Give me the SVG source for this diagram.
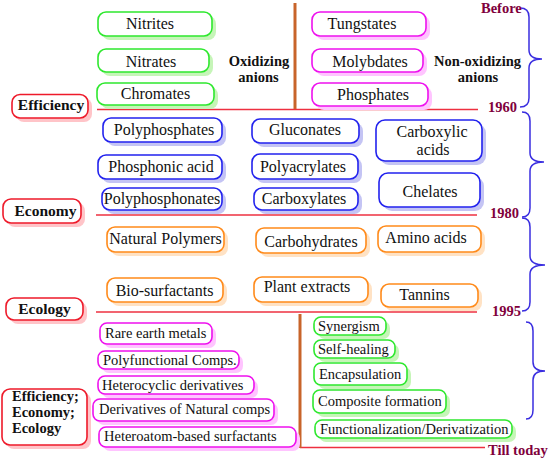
<svg xmlns="http://www.w3.org/2000/svg" width="551" height="459" viewBox="0 0 551 459">
<style>
.bx{fill:#fff;stroke-width:1.6}
.g{stroke:#2ee82e}.gs{fill:#c6f5b8}
.m{stroke:#ee11ee}.ms{fill:#ffc4ff}
.b{stroke:#2222ee}.bs{fill:#c4c4f4}
.o{stroke:#ff8a1a}.os{fill:#ffe2c4}
.r{stroke:#ee1a2a}.rs{fill:#ffc4c8}
text{font-family:"Liberation Serif","Times New Roman",serif;fill:#111}
.t16{font-size:16px;text-anchor:middle}
.t14{font-size:14.5px}
.lb{font-size:15.5px;font-weight:bold;text-anchor:middle}
.an{font-size:14.5px;font-weight:bold;text-anchor:middle}
.yr{font-size:14.5px;font-weight:bold;fill:#80003c}
.hl{stroke:#ee3040;stroke-width:1.5;fill:none}
.vl{stroke:#c8642a;stroke-width:3;fill:none}
.br{stroke:#3a2ee0;stroke-width:1.5;fill:none}
</style>

<g id="connectors">
<line class="hl" x1="97" y1="109.5" x2="478" y2="109.5"/>
<line class="hl" x1="96" y1="215" x2="477" y2="215"/>
<line class="hl" x1="96" y1="312" x2="477" y2="312"/>
<line class="hl" x1="300" y1="447.5" x2="485" y2="447.5"/>
<line class="vl" x1="295" y1="3" x2="295" y2="109"/>
<line class="vl" x1="300" y1="314" x2="300" y2="448"/>
<path class="br" d="M520,8 Q529,8 529,17 L529,50 Q529,59 542,59 Q529,59 529,68 L529,98 Q529,107 520,107"/>
<path class="br" d="M522,112 Q530,112 530,121 L530,153 Q530,162 544,162 Q530,162 530,171 L530,208 Q530,217 522,217"/>
<path class="br" d="M522,218 Q530,218 530,227 L530,256 Q530,265 545,265 Q530,265 530,274 L530,302 Q530,311 522,311"/>
<path class="br" d="M526,322 Q533,322 533,331 L533,362 Q533,371 545,371 Q533,371 533,380 L533,410 Q533,419 526,419"/>
</g>

<g id="labels">
<text class="an" x="259" y="66">Oxidizing</text>
<text class="an" x="258.5" y="82">anions</text>
<text class="an" x="477.5" y="66">Non-oxidizing</text>
<text class="an" x="478" y="82">anions</text>
<text class="yr" x="481" y="13">Before</text>
<text class="yr" x="488" y="112">1960</text>
<text class="yr" x="490" y="218">1980</text>
<text class="yr" x="492" y="316">1995</text>
<text class="yr" x="488" y="455">Till today</text>
</g>

<g id="efficiency"><rect class="rs" x="16" y="98" width="76" height="24" rx="8"/><rect class="bx r" x="12" y="94.5" width="76" height="23.5" rx="8"/><text class="lb" x="51" y="110">Efficiency</text></g>
<g id="economy"><rect class="rs" x="7" y="203" width="78" height="24" rx="8"/><rect class="bx r" x="3" y="199" width="78" height="24" rx="8"/><text class="lb" x="45.5" y="216">Economy</text></g>
<g id="ecology"><rect class="rs" x="10" y="302" width="77" height="22" rx="8"/><rect class="bx r" x="6" y="298" width="77" height="22" rx="8"/><text class="lb" x="44.5" y="314">Ecology</text></g>
<g id="all3"><rect class="rs" x="6" y="393" width="85" height="56" rx="8"/><rect class="bx r" x="2" y="389" width="85" height="56" rx="8"/>
<text style="font-size:14.5px;font-weight:bold" x="12" y="401">Efficiency;</text>
<text style="font-size:14.5px;font-weight:bold" x="12" y="417">Economy;</text>
<text style="font-size:14.5px;font-weight:bold" x="12" y="433">Ecology</text></g>

<g id="nitrites"><rect class="gs" x="102" y="16" width="114" height="24" rx="8"/><rect class="bx g" x="98" y="12" width="114" height="24" rx="8"/><text class="t16" x="150" y="29">Nitrites</text></g>
<g id="nitrates"><rect class="gs" x="102" y="53" width="111" height="23" rx="8"/><rect class="bx g" x="98" y="49" width="111" height="23" rx="8"/><text class="t16" x="151" y="66.5">Nitrates</text></g>
<g id="chromates"><rect class="gs" x="101" y="87" width="117" height="22" rx="8"/><rect class="bx g" x="97" y="83" width="117" height="22" rx="8"/><text class="t16" x="155.5" y="99">Chromates</text></g>

<g id="tungstates"><rect class="ms" x="316" y="16" width="114" height="24" rx="8"/><rect class="bx m" x="312" y="12" width="114" height="24" rx="8"/><text class="t16" x="362" y="29">Tungstates</text></g>
<g id="molybdates"><rect class="ms" x="316" y="53" width="111" height="23" rx="8"/><rect class="bx m" x="312" y="49" width="111" height="23" rx="8"/><text class="t16" x="370" y="67">Molybdates</text></g>
<g id="phosphates"><rect class="ms" x="316" y="87" width="116" height="23" rx="8"/><rect class="bx m" x="312" y="83" width="116" height="23" rx="8"/><text class="t16" x="373" y="99.5">Phosphates</text></g>

<g id="polyphosphates"><rect class="bs" x="107" y="122" width="119" height="24" rx="8"/><rect class="bx b" x="103" y="118" width="119" height="24" rx="8"/><text class="t16" x="164" y="134.5">Polyphosphates</text></g>
<g id="phosphonic"><rect class="bs" x="102" y="159" width="124" height="24" rx="8"/><rect class="bx b" x="98" y="155" width="124" height="24" rx="8"/><text class="t16" x="161" y="172">Phosphonic acid</text></g>
<g id="polyphosphonates"><rect class="bs" x="106" y="192" width="120" height="22" rx="8"/><rect class="bx b" x="102" y="188" width="120" height="22" rx="8"/><text class="t16" x="162" y="204">Polyphosphonates</text></g>
<g id="gluconates"><rect class="bs" x="256" y="123" width="107" height="24" rx="8"/><rect class="bx b" x="252" y="119" width="107" height="24" rx="8"/><text class="t16" x="305" y="134.5">Gluconates</text></g>
<g id="polyacrylates"><rect class="bs" x="256" y="158" width="106" height="25" rx="8"/><rect class="bx b" x="252" y="154" width="106" height="25" rx="8"/><text class="t16" x="303" y="172">Polyacrylates</text></g>
<g id="carboxylates"><rect class="bs" x="258" y="192" width="104" height="22" rx="8"/><rect class="bx b" x="254" y="188" width="104" height="22" rx="8"/><text class="t16" x="304" y="204">Carboxylates</text></g>
<g id="carboxylic"><rect class="bs" x="380" y="124" width="106" height="41" rx="9"/><rect class="bx b" x="376" y="120" width="106" height="41" rx="9"/><text class="t16" x="432" y="137">Carboxylic</text><text class="t16" x="433" y="155">acids</text></g>
<g id="chelates"><rect class="bs" x="383" y="177" width="101" height="34" rx="9"/><rect class="bx b" x="379" y="173" width="101" height="34" rx="9"/><text class="t16" x="430" y="196.5">Chelates</text></g>

<g id="natpoly"><rect class="os" x="111" y="231" width="117" height="25" rx="8"/><rect class="bx o" x="107" y="227" width="117" height="25" rx="8"/><text class="t16" x="165.5" y="244">Natural Polymers</text></g>
<g id="biosurf"><rect class="os" x="111" y="282" width="116" height="24" rx="8"/><rect class="bx o" x="107" y="278" width="116" height="24" rx="8"/><text class="t16" x="164.5" y="295.5">Bio-surfactants</text></g>
<g id="carbohydrates"><rect class="os" x="260" y="232" width="110" height="25" rx="8"/><rect class="bx o" x="256" y="228" width="110" height="25" rx="8"/><text class="t16" x="311" y="246.5">Carbohydrates</text></g>
<g id="plantext"><rect class="os" x="258" y="281" width="114" height="25" rx="8"/><rect class="bx o" x="254" y="277" width="114" height="25" rx="8"/><text class="t16" x="307" y="292">Plant extracts</text></g>
<g id="aminoacids"><rect class="os" x="382" y="230" width="103" height="26" rx="8"/><rect class="bx o" x="378" y="226" width="103" height="26" rx="8"/><text class="t16" x="426" y="243">Amino acids</text></g>
<g id="tannins"><rect class="os" x="385" y="288" width="97" height="23" rx="8"/><rect class="bx o" x="381" y="284" width="97" height="23" rx="8"/><text class="t16" x="424.5" y="300">Tannins</text></g>

<g id="rareearth"><rect class="ms" x="104" y="327" width="112" height="21" rx="7"/><rect class="bx m" x="100" y="323" width="112" height="21" rx="7"/><text class="t14" x="105" y="338">Rare earth metals</text></g>
<g id="polyfunc"><rect class="ms" x="102" y="355" width="141" height="18" rx="7"/><rect class="bx m" x="98" y="351" width="141" height="18" rx="7"/><text class="t14" x="103" y="365">Polyfunctional Comps.</text></g>
<g id="heterocyclic"><rect class="ms" x="102" y="380" width="156" height="18" rx="7"/><rect class="bx m" x="98" y="376" width="156" height="18" rx="7"/><text class="t14" x="102" y="390">Heterocyclic derivatives</text></g>
<g id="derivnat"><rect class="ms" x="97" y="403" width="181" height="22" rx="7"/><rect class="bx m" x="93" y="399" width="181" height="22" rx="7"/><text class="t14" x="99" y="414">Derivatives of Natural comps</text></g>
<g id="heteroatom"><rect class="ms" x="103" y="431" width="197" height="20" rx="7"/><rect class="bx m" x="99" y="427" width="197" height="20" rx="7"/><text class="t14" x="104" y="441">Heteroatom-based surfactants</text></g>

<g id="synergism"><rect class="gs" x="318" y="321" width="72" height="18" rx="7"/><rect class="bx g" x="314" y="317" width="72" height="18" rx="7"/><text class="t14" x="318" y="331">Synergism</text></g>
<g id="selfheal"><rect class="gs" x="318" y="344" width="81" height="18" rx="7"/><rect class="bx g" x="314" y="340" width="81" height="18" rx="7"/><text class="t14" x="318" y="354">Self-healing</text></g>
<g id="encaps"><rect class="gs" x="318" y="367" width="93" height="22" rx="7"/><rect class="bx g" x="314" y="363" width="93" height="22" rx="7"/><text class="t14" x="319" y="378.5">Encapsulation</text></g>
<g id="composite"><rect class="gs" x="317" y="394" width="133" height="23" rx="7"/><rect class="bx g" x="313" y="390" width="133" height="23" rx="7"/><text class="t14" x="318" y="406">Composite formation</text></g>
<g id="functional"><rect class="gs" x="319" y="424" width="197" height="18" rx="7"/><rect class="bx g" x="315" y="420" width="197" height="18" rx="7"/><text class="t14" x="320" y="434">Functionalization/Derivatization</text></g>
</svg>
